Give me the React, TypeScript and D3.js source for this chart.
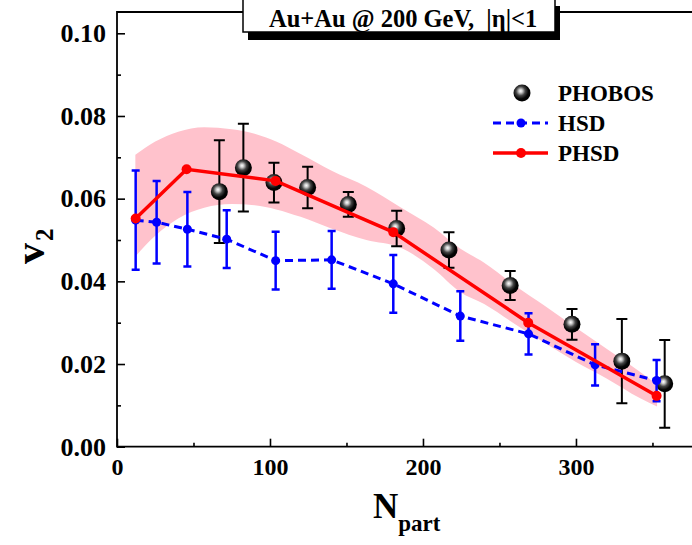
import React, { useRef, useEffect } from 'react';
import * as d3 from 'd3';

const WIDTH = 692;
const HEIGHT = 545;
const FONT = '"Liberation Serif", "Times New Roman", serif';

// PHOBOS data (N_part, v2, error)
const PHOBOS_NPART = [66.9, 82.6, 102.6, 124.6, 151.2, 182.8, 217, 257, 297.4, 330, 358];
const PHOBOS_V2 = [0.0617, 0.0675, 0.0639, 0.0627, 0.0586, 0.0528, 0.0476, 0.039, 0.0296, 0.0207, 0.0152];
const PHOBOS_ERR = [0.0124, 0.0106, 0.0048, 0.005, 0.003, 0.0043, 0.0043, 0.0035, 0.0037, 0.0102, 0.0106];

// HSD
const HSD_NPART = [12.2, 25.9, 46, 71.7, 103.7, 140.3, 180.6, 224.4, 269, 312.5, 352.7];
const HSD_V2 = [0.0548, 0.0543, 0.0526, 0.0502, 0.045, 0.0452, 0.0394, 0.0316, 0.0273, 0.0198, 0.016];
const HSD_ERR = [0.012, 0.01, 0.009, 0.007, 0.007, 0.007, 0.007, 0.006, 0.005, 0.005, 0.005];

// PHSD
const PHSD_NPART = [12.2, 45.5, 103.7, 180.6, 268.8, 352.7];
const PHSD_V2 = [0.0552, 0.0671, 0.0643, 0.0519, 0.03, 0.0123];

// PHSD uncertainty band
const BAND_NPART = [12, 25, 40, 57, 75, 90, 104, 120, 140, 163, 185, 207, 224, 240, 260, 280, 300, 320, 342, 353];
const BAND_UPPER = [0.0706, 0.0738, 0.0762, 0.0773, 0.0768, 0.0757, 0.0738, 0.0708, 0.0668, 0.0629, 0.058, 0.053, 0.048, 0.0445, 0.039, 0.034, 0.0288, 0.0237, 0.0181, 0.015];
const BAND_LOWER = [0.046, 0.051, 0.0552, 0.0578, 0.0587, 0.0584, 0.0574, 0.0556, 0.0528, 0.05, 0.0482, 0.043, 0.0375, 0.0345, 0.0297, 0.025, 0.0205, 0.0165, 0.0117, 0.0097];

const X_MAJOR = [0, 100, 200, 300];
const X_MINOR = [50, 150, 250, 350];
const Y_MAJOR = [0, 0.02, 0.04, 0.06, 0.08, 0.1];
const Y_MINOR = [0.01, 0.03, 0.05, 0.07, 0.09];

const TITLE = 'Au+Au @ 200 GeV,  |\u03b7|<1';
const LEGEND = ['PHOBOS', 'HSD', 'PHSD'];

const PLOT = { left: 117, right: 693, top: 12, bottom: 446.7 };

export default function App() {
  const svgRef = useRef(null);

  useEffect(() => {
    const svg = d3.select(svgRef.current);
    svg.selectAll('*').remove();

    const x = d3.scaleLinear().domain([0, 376.5]).range([PLOT.left, PLOT.right]);
    const y = d3.scaleLinear().domain([0, 0.1]).range([PLOT.bottom, 33.3]);

    const defs = svg.append('defs');
    const grad = defs
      .append('radialGradient')
      .attr('id', 'ball')
      .attr('cx', 0.42)
      .attr('cy', 0.4)
      .attr('r', 0.6)
      .attr('fx', 0.42)
      .attr('fy', 0.38);
    grad.append('stop').attr('offset', '0%').attr('stop-color', '#ffffff');
    grad.append('stop').attr('offset', '18%').attr('stop-color', '#c8c8c8');
    grad.append('stop').attr('offset', '45%').attr('stop-color', '#444');
    grad.append('stop').attr('offset', '75%').attr('stop-color', '#050505');
    grad.append('stop').attr('offset', '100%').attr('stop-color', '#000');

    // band
    const band = BAND_NPART.map((n, i) => ({ n, lo: BAND_LOWER[i], hi: BAND_UPPER[i] }));
    svg
      .append('path')
      .datum(band)
      .attr('fill', '#ffc2cc')
      .attr(
        'd',
        d3
          .area()
          .x((d) => x(d.n))
          .y0((d) => y(d.lo))
          .y1((d) => y(d.hi))
          .curve(d3.curveMonotoneX)
      );

    // axes
    const xAxis = svg.append('g').attr('class', 'xaxis').attr('transform', `translate(0, ${PLOT.bottom})`);
    xAxis.call(
      d3.axisBottom(x).tickValues(X_MAJOR).tickSizeInner(-8).tickSizeOuter(0).tickPadding(11).tickFormat(d3.format('d'))
    );
    xAxis
      .append('g')
      .call(d3.axisBottom(x).tickValues(X_MINOR).tickSizeInner(-4).tickSizeOuter(0).tickFormat(() => ''));

    const yAxis = svg.append('g').attr('class', 'yaxis').attr('transform', `translate(${PLOT.left}, 0)`);
    yAxis.call(
      d3.axisLeft(y).tickValues(Y_MAJOR).tickSizeInner(-8).tickSizeOuter(0).tickPadding(11).tickFormat(d3.format('.2f'))
    );
    yAxis
      .append('g')
      .call(d3.axisLeft(y).tickValues(Y_MINOR).tickSizeInner(-4).tickSizeOuter(0).tickFormat(() => ''));

    svg.selectAll('.domain').remove();
    svg.selectAll('.tick line').attr('stroke', '#000').attr('stroke-width', 1.6);
    svg
      .selectAll('.tick text')
      .attr('fill', '#000')
      .style('font-family', FONT)
      .style('font-weight', 'bold')
      .style('font-size', '24px');
    svg.selectAll('.yaxis .tick text').style('font-size', '26px');

    svg
      .append('path')
      .attr('d', `M${PLOT.right},${PLOT.top}H${PLOT.left}V${PLOT.bottom}H${PLOT.right}`)
      .attr('fill', 'none')
      .attr('stroke', '#000')
      .attr('stroke-width', 1.8);

    // PHOBOS
    const phobos = PHOBOS_NPART.map((n, i) => ({ n, v: PHOBOS_V2[i], e: PHOBOS_ERR[i] }));
    const pg = svg.append('g');
    phobos.forEach((d) => {
      const cx = x(d.n);
      pg.append('path')
        .attr('d', `M${cx},${y(d.v - d.e)}V${y(d.v + d.e)}M${cx - 5.5},${y(d.v - d.e)}h11M${cx - 5.5},${y(d.v + d.e)}h11`)
        .attr('stroke', '#000')
        .attr('stroke-width', 2)
        .attr('fill', 'none');
    });
    pg.selectAll('circle')
      .data(phobos)
      .enter()
      .append('circle')
      .attr('cx', (d) => x(d.n))
      .attr('cy', (d) => y(d.v))
      .attr('r', 8.5)
      .attr('fill', 'url(#ball)');

    // HSD
    const hsd = HSD_NPART.map((n, i) => ({ n, v: HSD_V2[i], e: HSD_ERR[i] }));
    const hg = svg.append('g');
    hg.append('path')
      .datum(hsd)
      .attr('fill', 'none')
      .attr('stroke', '#0000ff')
      .attr('stroke-width', 3)
      .attr('stroke-dasharray', '8,5')
      .attr('d', d3.line().x((d) => x(d.n)).y((d) => y(d.v)));
    hsd.forEach((d) => {
      const cx = x(d.n);
      hg.append('path')
        .attr('d', `M${cx},${y(d.v - d.e)}V${y(d.v + d.e)}M${cx - 4},${y(d.v - d.e)}h8M${cx - 4},${y(d.v + d.e)}h8`)
        .attr('stroke', '#0000ff')
        .attr('stroke-width', 2.5)
        .attr('fill', 'none');
    });
    hg.selectAll('circle')
      .data(hsd)
      .enter()
      .append('circle')
      .attr('cx', (d) => x(d.n))
      .attr('cy', (d) => y(d.v))
      .attr('r', 4.5)
      .attr('fill', '#0000ff');

    // PHSD
    const phsd = PHSD_NPART.map((n, i) => ({ n, v: PHSD_V2[i] }));
    const rg = svg.append('g');
    rg.append('path')
      .datum(phsd)
      .attr('fill', 'none')
      .attr('stroke', '#ff0000')
      .attr('stroke-width', 3.5)
      .attr('d', d3.line().x((d) => x(d.n)).y((d) => y(d.v)));
    rg.selectAll('circle')
      .data(phsd)
      .enter()
      .append('circle')
      .attr('cx', (d) => x(d.n))
      .attr('cy', (d) => y(d.v))
      .attr('r', 5)
      .attr('fill', '#ff0000');

    // legend
    const lg = svg.append('g').style('font-family', FONT).style('font-weight', 'bold').style('font-size', '23px');
    lg.append('circle').attr('cx', 522).attr('cy', 93).attr('r', 8.5).attr('fill', 'url(#ball)');
    lg.append('line').attr('x1', 493).attr('x2', 548).attr('y1', 123).attr('y2', 123)
      .attr('stroke', '#0000ff').attr('stroke-width', 3).attr('stroke-dasharray', '8,5');
    lg.append('circle').attr('cx', 521).attr('cy', 123).attr('r', 4.5).attr('fill', '#0000ff');
    lg.append('line').attr('x1', 493).attr('x2', 548).attr('y1', 153).attr('y2', 153)
      .attr('stroke', '#ff0000').attr('stroke-width', 3.5);
    lg.append('circle').attr('cx', 521).attr('cy', 153).attr('r', 5).attr('fill', '#ff0000');
    LEGEND.forEach((t, i) => {
      lg.append('text').attr('x', 558).attr('y', 101 + i * 30).text(t);
    });

    // title box
    svg.append('rect').attr('x', 248).attr('y', 6).attr('width', 312).attr('height', 34).attr('fill', '#000');
    svg.append('rect').attr('x', 243).attr('y', -2).attr('width', 312).attr('height', 34)
      .attr('fill', '#fff').attr('stroke', '#000').attr('stroke-width', 1.5);
    svg.append('text')
      .attr('x', 269)
      .attr('y', 26.5)
      .style('font-family', FONT)
      .style('font-weight', 'bold')
      .style('font-size', '24.5px')
      .style('white-space', 'pre')
      .text(TITLE);

    // axis titles
    const xt = svg.append('text').attr('x', 373).attr('y', 518)
      .style('font-family', FONT).style('font-weight', 'bold').style('font-size', '35px');
    xt.append('tspan').text('N');
    xt.append('tspan').attr('dy', 13).style('font-size', '23px').text('part');

    const yt = svg.append('text').attr('transform', 'translate(44, 264) rotate(-90)')
      .style('font-family', FONT).style('font-weight', 'bold').style('font-size', '42px');
    yt.append('tspan').text('v');
    yt.append('tspan').attr('dy', 9).attr('dx', 2).style('font-size', '25px').text('2');
  }, []);

  return (
    <svg
      ref={svgRef}
      width={WIDTH}
      height={HEIGHT}
      style={{ position: 'absolute', left: 0, top: 0, background: '#fff' }}
    />
  );
}
